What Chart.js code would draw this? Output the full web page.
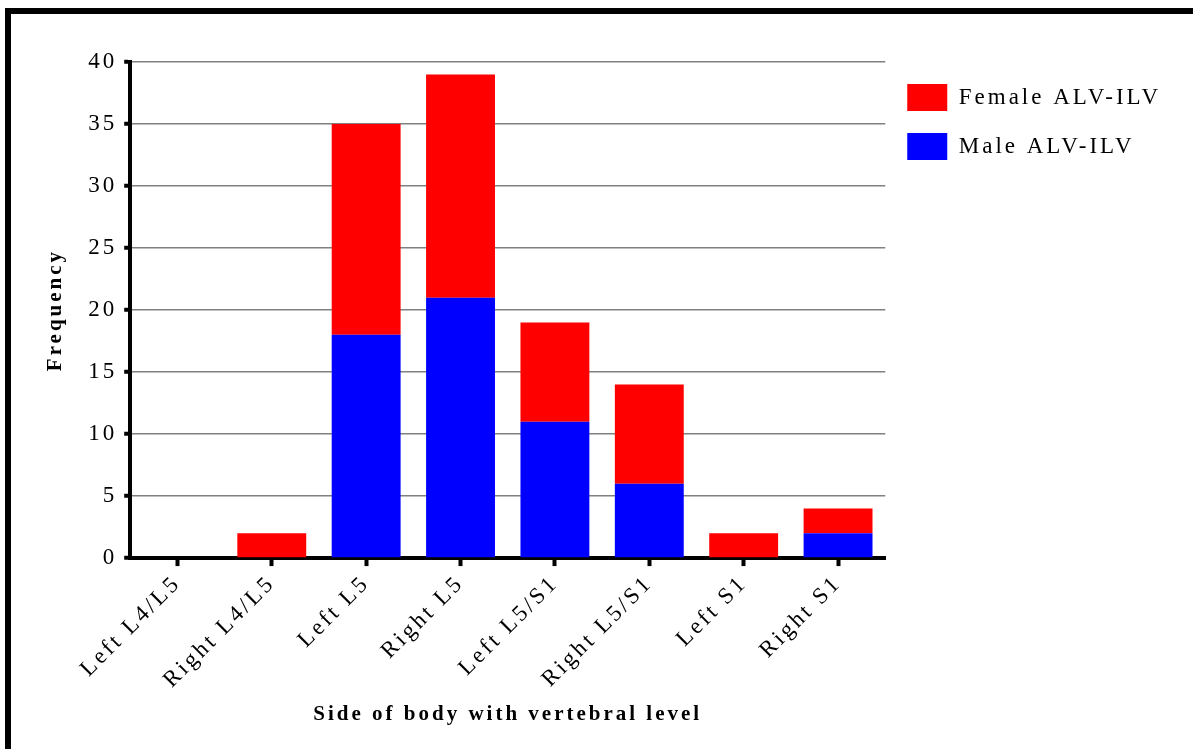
<!DOCTYPE html>
<html>
<head>
<meta charset="utf-8">
<script src="https://cdn.jsdelivr.net/npm/chart.js@4/dist/chart.umd.min.js"></script>
<style>
    html, body { margin: 0; padding: 0; background: #fff; overflow: hidden; }
    #frame {
        position: absolute; left: 5px; top: 8px;
        border-top: 6px solid #000; border-left: 6px solid #000;
        width: 1182px; height: 735px;
    }
    canvas { display: block; }
</style>
</head>
<body>
<div id="frame"><canvas id="chart" width="1182" height="735"></canvas></div>
<script>
// data
const categories = ['Left L4/L5', 'Right L4/L5', 'Left L5', 'Right L5', 'Left L5/S1', 'Right L5/S1', 'Left S1', 'Right S1'];
const maleValues = [0, 0, 18, 21, 11, 6, 0, 2];
const femaleValues = [0, 2, 17, 18, 8, 8, 2, 2];
const yTicks = [0, 5, 10, 15, 20, 25, 30, 35, 40];

const serif = '"Liberation Serif", "Times New Roman", serif';

// canvas letter spacing, the original text is spread out
const spacingPlugin = {
    id: 'spacing',
    beforeLayout(chart) { chart.ctx.letterSpacing = '3px'; },
    beforeDraw(chart) { chart.ctx.letterSpacing = '3px'; }
};

const ctx = document.getElementById('chart').getContext('2d');
new Chart(ctx, {
    type: 'bar',
    data: {
        labels: categories,
        datasets: [
            {
                label: 'Male ALV-ILV',
                data: maleValues,
                backgroundColor: '#0000ff',
                barPercentage: 0.73,
                categoryPercentage: 1
            },
            {
                label: 'Female ALV-ILV',
                data: femaleValues,
                backgroundColor: '#ff0000',
                barPercentage: 0.73,
                categoryPercentage: 1
            }
        ]
    },
    plugins: [spacingPlugin],
    options: {
        responsive: false,
        animation: false,
        layout: { padding: { left: 32, top: 48, right: 27, bottom: 22 } },
        plugins: {
            tooltip: { enabled: false },
            legend: {
                position: 'right',
                align: 'start',
                reverse: true,
                labels: {
                    boxWidth: 40,
                    boxHeight: 27,
                    padding: 22,
                    color: '#000',
                    font: { family: serif, size: 23 }
                }
            }
        },
        scales: {
            x: {
                stacked: true,
                grid: {
                    offset: false,
                    drawOnChartArea: false,
                    tickLength: 8,
                    tickWidth: 4,
                    tickColor: '#000'
                },
                border: { color: '#000', width: 4 },
                ticks: {
                    minRotation: 45,
                    maxRotation: 45,
                    color: '#000',
                    padding: 4,
                    font: { family: serif, size: 23 }
                },
                title: {
                    display: true,
                    text: 'Side of body with vertebral level',
                    color: '#000',
                    padding: { top: 4, bottom: 0 },
                    font: { family: serif, size: 21, weight: 'bold' }
                }
            },
            y: {
                stacked: true,
                min: 0,
                max: 40,
                afterBuildTicks(scale) {
                    scale.ticks = yTicks.map(v => ({ value: v }));
                },
                grid: {
                    color: '#808080',
                    lineWidth: 1.5,
                    tickLength: 6,
                    tickWidth: 4,
                    tickColor: '#000'
                },
                border: { color: '#000', width: 4 },
                ticks: {
                    color: '#000',
                    padding: 7,
                    font: { family: serif, size: 23 }
                },
                title: {
                    display: true,
                    text: 'Frequency',
                    color: '#000',
                    padding: { top: 0, bottom: 13 },
                    font: { family: serif, size: 21, weight: 'bold' }
                }
            }
        }
    }
});
</script>
</body>
</html>
